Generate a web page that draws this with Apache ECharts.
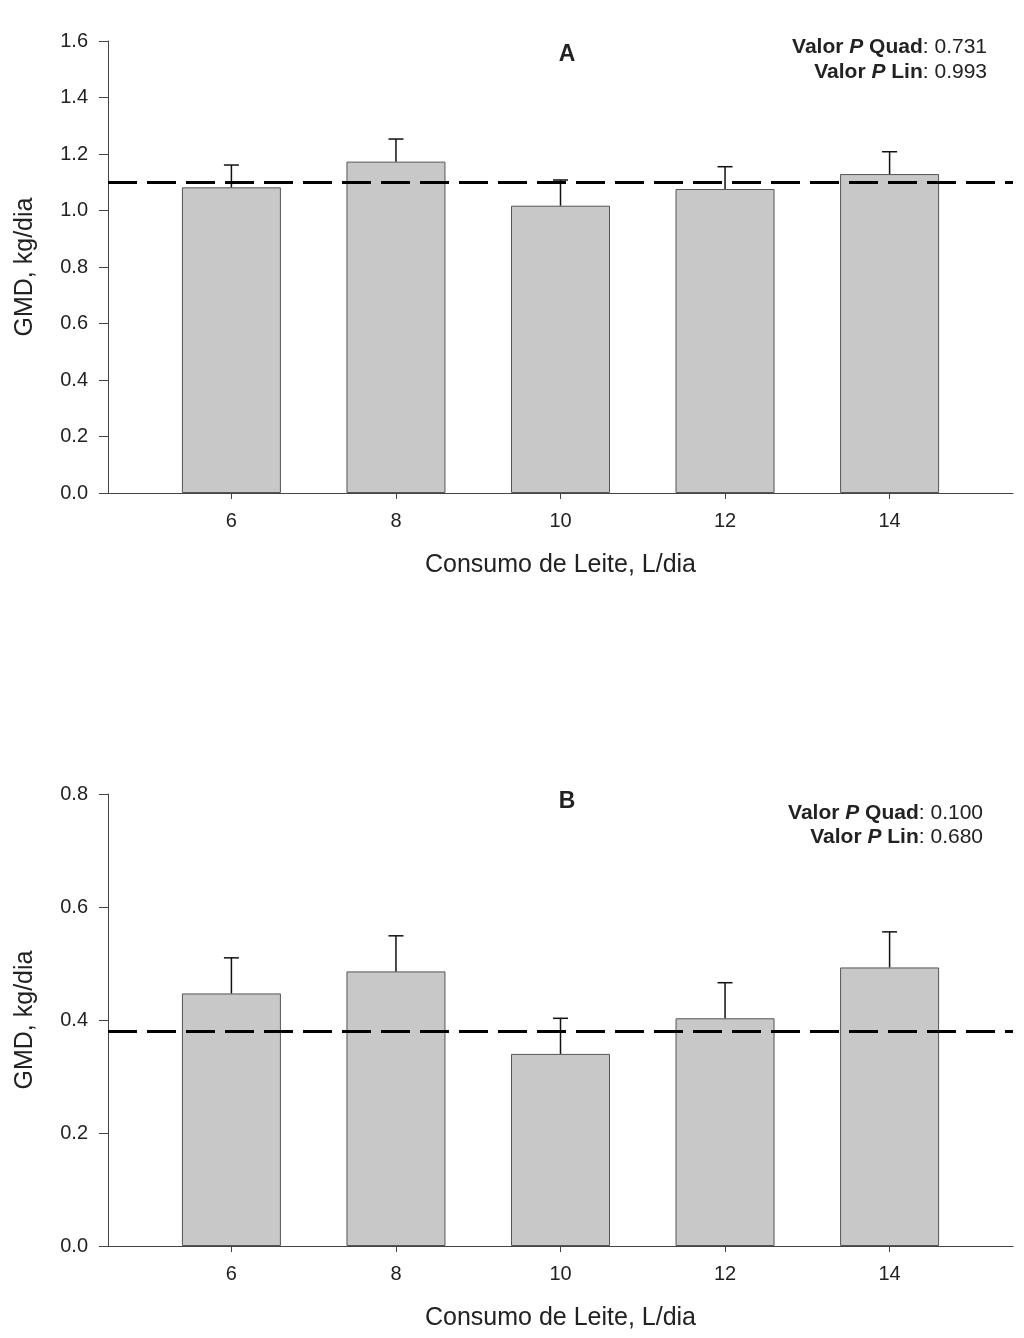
<!DOCTYPE html>
<html>
<head>
<meta charset="utf-8">
<script src="https://cdn.jsdelivr.net/npm/echarts@6/dist/echarts.min.js"></script>
<style>
html,body{margin:0;padding:0;background:#fff;}
#chart{width:1024px;height:1338px;}
</style>
</head>
<body>
<div id="chart"></div>
<script>
// Data
const milkIntake = [6, 8, 10, 12, 14];
const xTickLabels = [6, 8, 10, 12, 14];
const gmdA = [1.082, 1.173, 1.017, 1.076, 1.129];
const seA = [0.079, 0.080, 0.091, 0.079, 0.079];
const refA = 1.10;
const gmdB = [0.447, 0.486, 0.340, 0.403, 0.493];
const seB = [0.063, 0.063, 0.063, 0.063, 0.063];
const refB = 0.3755;
const pTextA = ['0.731', '0.993'];
const pTextB = ['0.100', '0.680'];
const yTicksA = [0, 1.6, 0.2];
const yTicksB = [0, 0.8, 0.2];

const FONT = '"Liberation Sans", Arial, sans-serif';
const AXIS_COLOR = '#444';

function xAxisCfg(gridIndex) {
  return {
    type: 'value', gridIndex, min: 4.5, max: 15.5,
    name: 'Consumo de Leite, L/dia', nameLocation: 'middle', nameGap: 60,
    nameTextStyle: {fontSize: 25, fontFamily: FONT, color: '#222'},
    axisLine: {show: true, onZero: false, lineStyle: {color: AXIS_COLOR, width: 1}},
    axisTick: {show: true, inside: false, length: 6, customValues: xTickLabels, lineStyle: {color: AXIS_COLOR}},
    axisLabel: {show: true, customValues: xTickLabels, margin: 18, fontSize: 20, fontFamily: FONT, color: '#222'},
    splitLine: {show: false}
  };
}
function yAxisCfg(gridIndex, t) {
  return {
    type: 'value', gridIndex, min: t[0], max: t[1], interval: t[2],
    name: 'GMD, kg/dia', nameLocation: 'middle', nameGap: 70, nameRotate: 90,
    nameTextStyle: {fontSize: 25, fontFamily: FONT, color: '#222'},
    axisLine: {show: true, lineStyle: {color: AXIS_COLOR, width: 1}},
    axisTick: {show: true, inside: false, length: 9, lineStyle: {color: AXIS_COLOR}},
    axisLabel: {margin: 20, fontSize: 20, fontFamily: FONT, color: '#222', formatter: v => v.toFixed(1)},
    splitLine: {show: false}
  };
}
function barSeries(idx, vals, ref) {
  return {
    type: 'bar', xAxisIndex: idx, yAxisIndex: idx, barWidth: 99,
    data: milkIntake.map((x, i) => [x, vals[i]]),
    itemStyle: {color: '#c8c8c8', borderColor: '#555', borderWidth: 1},
    z: 2,
    markLine: {
      silent: true, symbol: ['none', 'none'], label: {show: false},
      lineStyle: {color: '#000', width: 3, type: [29, 10]},
      data: [{yAxis: ref}]
    }
  };
}
function errSeries(idx, vals, se) {
  return {
    type: 'custom', xAxisIndex: idx, yAxisIndex: idx, z: 3,
    data: milkIntake.map((x, i) => [x, vals[i], vals[i] + se[i]]),
    renderItem: function (params, api) {
      const base = api.coord([api.value(0), api.value(1)]);
      const top = api.coord([api.value(0), api.value(2)]);
      const hw = 7.5;
      return {
        type: 'group',
        children: [
          {type: 'line', shape: {x1: base[0], y1: base[1], x2: top[0], y2: top[1]}, style: {stroke: '#111', lineWidth: 1.5}},
          {type: 'line', shape: {x1: top[0] - hw, y1: top[1], x2: top[0] + hw, y2: top[1]}, style: {stroke: '#111', lineWidth: 1.5}}
        ]
      };
    }
  };
}
function pText(x, y, label, val) {
  return {
    type: 'text', x: x, y: y,
    style: {
      text: '{b|Valor }{bi|P}{b| ' + label + '}{n|: ' + val + '}',
      align: 'right', verticalAlign: 'middle',
      rich: {
        b: {fontSize: 21, fontWeight: 'bold', fontFamily: FONT, fill: '#222'},
        bi: {fontSize: 21, fontWeight: 'bold', fontStyle: 'italic', fontFamily: FONT, fill: '#222'},
        n: {fontSize: 21, fontFamily: FONT, fill: '#222'}
      }
    }
  };
}
function letter(x, y, t) {
  return {type: 'text', x: x, y: y, style: {text: t, align: 'center', verticalAlign: 'middle', fontSize: 23, fontWeight: 'bold', fontFamily: FONT, fill: '#222'}};
}

const chart = echarts.init(document.getElementById('chart'), null, {renderer: 'canvas'});
chart.setOption({
  backgroundColor: '#fff',
  animation: false,
  grid: [
    {left: 108, right: 11, top: 41, height: 452},
    {left: 108, right: 11, top: 794, height: 452}
  ],
  xAxis: [xAxisCfg(0), xAxisCfg(1)],
  yAxis: [yAxisCfg(0, yTicksA), yAxisCfg(1, yTicksB)],
  series: [
    barSeries(0, gmdA, refA), errSeries(0, gmdA, seA),
    barSeries(1, gmdB, refB), errSeries(1, gmdB, seB)
  ],
  graphic: [
    letter(567, 55, 'A'),
    pText(987, 47, 'Quad', pTextA[0]),
    pText(987, 72, 'Lin', pTextA[1]),
    letter(567, 802, 'B'),
    pText(983, 813, 'Quad', pTextB[0]),
    pText(983, 837, 'Lin', pTextB[1])
  ]
});
</script>
</body>
</html>
